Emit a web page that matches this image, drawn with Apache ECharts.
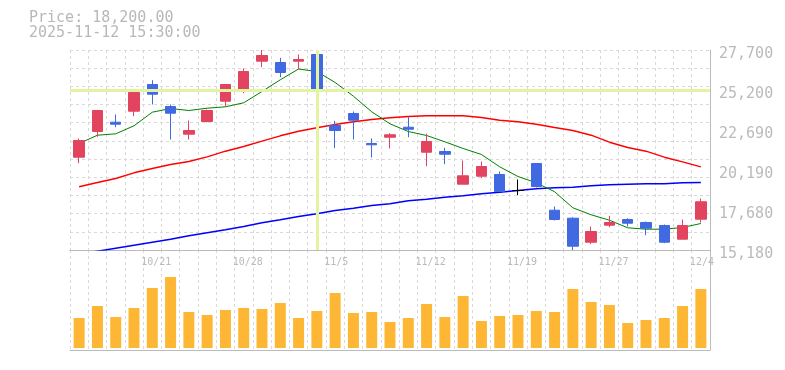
<!DOCTYPE html>
<html>
<head>
<meta charset="utf-8">
<script src="https://cdn.jsdelivr.net/npm/echarts@6/dist/echarts.min.js"></script>
<style>
html,body{margin:0;padding:0;background:#fff;}
#chart{width:785px;height:370px;}
</style>
</head>
<body>
<div id="chart"></div>
<script>
const categories = ['10/15','10/16','10/17','10/20','10/21','10/22','10/23','10/24','10/27','10/28','10/29','10/30','10/31','11/4','11/5','11/6','11/7','11/10','11/11','11/12','11/13','11/14','11/17','11/18','11/19','11/20','11/21','11/25','11/26','11/27','11/28','12/1','12/2','12/3','12/4'];
const openP  = [20989,22598,23180,23869,25540,24163,22429,23224,24495,25246,26999,26918,26999,27418,22974,23725,21847,22241,22867,21302,21346,19299,19800,19906,18905,20595,17672,17171,15668,16732,17089,16901,16714,15856,17108];
const closeP = [22035,23913,23055,25040,24933,23744,22661,23913,25540,26354,27356,26292,27105,25165,22661,23306,21766,22392,22742,21972,21177,19825,20407,18842,18905,19155,17089,15418,16338,16901,16858,16545,15668,16714,18200];
const lowP   = [20614,22266,22867,23556,24288,22097,22097,23162,24163,24996,26623,25997,26479,25165,21553,22097,20971,21534,22241,20426,20551,19299,19675,18842,18611,19093,17027,15180,15543,16607,16651,16106,15606,15856,16901];
const highP  = [22160,23950,23662,25040,25810,24288,23287,23975,25540,26542,27700,27212,27418,27480,23268,23850,22160,22492,23537,22454,21578,20783,20720,20094,19593,20595,17903,17233,16651,17321,17171,16964,16776,17089,18404];
const ma5  = [21847,22366,22454,22955,23806,24038,23913,24057,24144,24395,25102,25835,26511,26354,25665,24808,23831,23080,22598,22348,21953,21534,21158,20388,19781,19387,18830,17822,17384,17045,16570,16482,16482,16588,16839];
const ma25 = [19136,19405,19656,20013,20282,20532,20720,21014,21365,21659,21991,22329,22617,22830,23036,23205,23349,23456,23537,23581,23581,23581,23474,23305,23205,23055,22848,22661,22366,21928,21596,21365,20989,20701,20388];
const ma75 = [14917,15105,15293,15480,15668,15856,16069,16257,16445,16651,16883,17071,17277,17446,17653,17797,17966,18078,18260,18360,18485,18573,18698,18798,18905,19011,19080,19111,19199,19262,19299,19324,19324,19387,19405];
const volume = [300000,420000,310000,400000,600000,710000,360000,330000,380000,400000,390000,450000,300000,370000,550000,350000,360000,260000,300000,440000,310000,520000,270000,320000,330000,370000,360000,590000,460000,430000,250000,280000,300000,420000,590000];
const yTickLabels = ['15,180','17,680','20,190','22,690','25,200','27,700'];
const headerPrice = 'Price: 18,200.00';
const headerTime = '2025-11-12 15:30:00';
const crossCategory = '11/4';
const crossPrice = 25200;

const candleData = categories.map((c, i) => [openP[i], closeP[i], lowP[i], highP[i]]);
const font = 'DejaVu Sans Mono';
const gridLine = { show: true, lineStyle: { color: '#d9d9d9', type: [3, 3], width: 1 } };

const chart = echarts.init(document.getElementById('chart'), null, { renderer: 'canvas' });
chart.setOption({
  animation: false,
  backgroundColor: '#fff',
  textStyle: { fontFamily: font },
  graphic: [
    { type: 'text', left: 29, top: 11, style: { text: headerPrice, fill: '#b8b8b8', font: '15px "DejaVu Sans Mono"' } },
    { type: 'text', left: 29, top: 26, style: { text: headerTime, fill: '#b8b8b8', font: '15px "DejaVu Sans Mono"' } }
  ],
  grid: [
    { left: 70, right: 75, top: 50, height: 200 },
    { left: 70, right: 75, top: 250, height: 100 }
  ],
  xAxis: [
    { type: 'category', gridIndex: 0, data: categories, boundaryGap: true,
      axisLine: { show: true, onZero: false, lineStyle: { color: '#bbbbbb' } },
      axisTick: { show: false }, axisLabel: { show: false },
      splitLine: Object.assign({ interval: 0 }, gridLine) },
    { type: 'category', gridIndex: 1, data: categories, boundaryGap: true, position: 'top',
      axisLine: { show: true, onZero: false, lineStyle: { color: '#bbbbbb' } },
      axisTick: { show: false },
      axisLabel: { show: true, inside: true, margin: 7, align: 'left', padding: [0, 0, 0, -11],
        interval: (i) => i % 5 === 4, color: '#bbbbbb', fontSize: 10, fontFamily: font },
      splitLine: Object.assign({ interval: 0 }, gridLine) },
    { type: 'category', gridIndex: 1, data: categories, boundaryGap: true, position: 'bottom',
      axisLine: { show: true, onZero: false, lineStyle: { color: '#bbbbbb' } },
      axisTick: { show: false }, axisLabel: { show: false }, splitLine: { show: false } }
  ],
  yAxis: [
    { type: 'value', gridIndex: 0, position: 'right', min: 15180, max: 27700, interval: 2504,
      axisLine: { show: true, lineStyle: { color: '#bbbbbb' } }, axisTick: { show: false },
      axisLabel: { show: true, margin: 9, color: '#bbbbbb', fontSize: 15, fontFamily: font,
        verticalAlign: 'top', padding: [-3, 0, 0, 0],
        formatter: (v, i) => yTickLabels[i] },
      splitLine: { show: false } },
    { type: 'value', gridIndex: 0, position: 'left', min: 0, max: 11, interval: 1,
      axisLine: { show: false }, axisTick: { show: false }, axisLabel: { show: false },
      splitLine: gridLine },
    { type: 'value', gridIndex: 1, position: 'right', min: -20000, max: 980000,
      axisLine: { show: true, lineStyle: { color: '#bbbbbb' } }, axisTick: { show: false },
      axisLabel: { show: false }, splitLine: { show: false } }
  ],
  series: [
    { name: 'cross', type: 'line', xAxisIndex: 0, yAxisIndex: 0, z: 1,
      data: categories.map(() => null), showSymbol: false,
      markLine: { silent: true, symbol: ['none', 'none'], label: { show: false },
        lineStyle: { color: '#e2f4a2', width: 3, type: 'solid' },
        data: [{ xAxis: crossCategory }, { yAxis: crossPrice }] } },
    { name: 'MA75', type: 'line', xAxisIndex: 0, yAxisIndex: 0, z: 2, data: ma75,
      showSymbol: false, lineStyle: { color: '#0000ff', width: 1.6 } },
    { name: 'MA25', type: 'line', xAxisIndex: 0, yAxisIndex: 0, z: 2, data: ma25,
      showSymbol: false, lineStyle: { color: '#ff0000', width: 1.4 } },
    { name: 'MA5', type: 'line', xAxisIndex: 0, yAxisIndex: 0, z: 2, data: ma5,
      showSymbol: false, lineStyle: { color: '#008000', width: 1 } },
    { name: 'price', type: 'candlestick', xAxisIndex: 0, yAxisIndex: 0, z: 3, data: candleData,
      barWidth: 11,
      itemStyle: { color: '#e2445f', color0: '#4169e1', borderColor: '#e2445f', borderColor0: '#4169e1',
        borderColorDoji: '#000000', borderWidth: 1 } },
    { name: 'volume', type: 'bar', xAxisIndex: 1, yAxisIndex: 2, data: volume, barWidth: 11,
      itemStyle: { color: '#fdb734' } }
  ]
});
</script>
</body>
</html>
